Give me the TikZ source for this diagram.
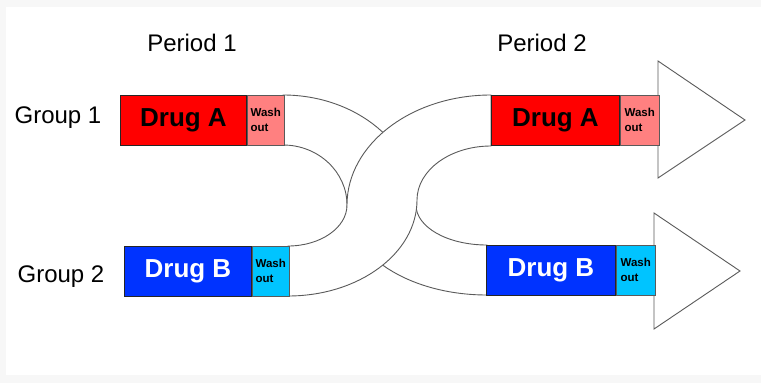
\documentclass[tikz,border=0pt]{standalone}
\usepackage{fontspec}
\setmainfont{Liberation Sans}
\definecolor{drugred}{HTML}{FF0000}
\definecolor{washred}{HTML}{FF8080}
\definecolor{drugblue}{HTML}{0033FF}
\definecolor{washblue}{HTML}{00C4FF}
\definecolor{frame}{HTML}{F7F7F7}
\definecolor{edge}{HTML}{5A5A5A}
\begin{document}
\begin{tikzpicture}[x=1pt,y=-1pt,
  band/.style={fill=white,draw=edge,line width=0.9pt},
  head/.style={fill=white,draw=edge,line width=0.9pt,line join=miter},
  drugbox/.style={draw=black!85,line width=0.9pt,inner sep=0pt,anchor=north west,
    minimum height=50pt,font=\fontsize{26}{30}\selectfont\bfseries},
  washbox/.style={draw=edge,line width=0.6pt,inner sep=0pt,anchor=north west,
    minimum height=50pt,align=left,font=\fontsize{11.5}{15}\selectfont\bfseries},
  label/.style={font=\fontsize{24}{28}\selectfont,inner sep=0pt}]
% page with its pale frame
\useasboundingbox (0,0) rectangle (761,383);
\fill[frame] (0,0) rectangle (761,383);
\fill[white] (6,7) rectangle (761,375);

% arrow heads at the end of period 2
\draw[head] (658,96) -- (658,61) -- (745,120) -- (658,178) -- (658,146);
\draw[head] (654,245) -- (654,213) -- (740,271) -- (654,329) -- (654,295);

% group 1 band: top left down to bottom right (drawn underneath)
\draw[band] (283,95) .. controls (356.4,95) and (416,144.3) .. (416,205)
  .. controls (416,227.1) and (447.4,245) .. (487,245)
  -- (487,295)
  .. controls (409.3,295) and (347,254.7) .. (347,205)
  .. controls (347,171.9) and (318.3,145) .. (283,145) -- cycle;

% group 2 band: bottom left up to top right (drawn on top)
\draw[band] (288,246) .. controls (320.6,246) and (347,227.6) .. (347,205)
  .. controls (347,144.3) and (411.5,95) .. (491,95)
  -- (491,146)
  .. controls (450.2,146) and (417,170.2) .. (417,200)
  .. controls (417,253) and (359.2,296) .. (288,296) -- cycle;

% period 1 treatment bars
\node[drugbox,fill=drugred,minimum width=126pt,text=black] (a1) at (120,95) {Drug A};
\node[washbox,fill=washred,minimum width=37pt] (w1) at (a1.north east) {Wash\\out};
\node[drugbox,fill=drugblue,minimum width=127pt,text=white] (b1) at (124,246) {Drug B};
\node[washbox,fill=washblue,minimum width=37pt] (w2) at (b1.north east) {Wash\\out};

% period 2 treatment bars
\node[drugbox,fill=drugred,minimum width=128pt,text=black] (a2) at (491,95) {Drug A};
\node[washbox,fill=washred,minimum width=39pt] (w3) at (a2.north east) {Wash\\out};
\node[drugbox,fill=drugblue,minimum width=129pt,text=white] (b2) at (486,245) {Drug B};
\node[washbox,fill=washblue,minimum width=39pt] (w4) at (b2.north east) {Wash\\out};

% headings
\node[label] (p1) at (192,43) {Period 1};
\node[label] (p2) at (542,43) {Period 2};
\node[label] (g1) at (58,118) {Group 1};
\node[label] (g2) at (61,277) {Group 2};
\end{tikzpicture}
\end{document}
